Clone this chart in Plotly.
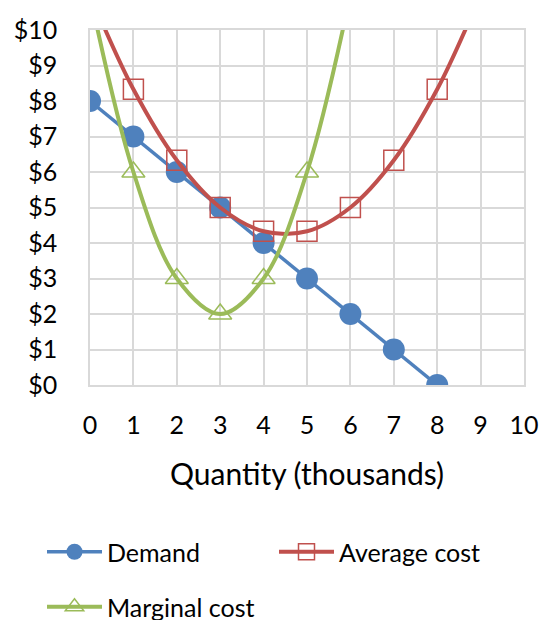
import plotly.graph_objects as go

quantity = [0, 1, 2, 3, 4, 5, 6, 7, 8, 9]
demand_q = [0, 1, 2, 3, 4, 5, 6, 7, 8]
demand = [8, 7, 6, 5, 4, 3, 2, 1, 0]
avg_cost = [11, 8.33, 6.33, 5, 4.33, 4.33, 5, 6.33, 8.33, 11]
mc_q = [0, 1, 2, 3, 4, 5, 6]
marg_cost = [11, 6, 3, 2, 3, 6, 11]

x_ticks = list(range(0, 11))
y_ticks = list(range(0, 11))

BLUE = "#4F81BD"
RED = "#C0504D"
GREEN = "#9BBB59"
GRID = "#D9D9D9"
FONT = "Lato"
FS = 25

W, H = 543, 620

fig = go.Figure()
fig.add_trace(go.Scatter(
    x=demand_q, y=demand, name="Demand", mode="lines+markers",
    line=dict(color=BLUE, width=3.5),
    marker=dict(symbol="circle", size=22, color=BLUE),
    legend="legend",
))
fig.add_trace(go.Scatter(
    x=quantity, y=avg_cost, name="Average cost", mode="lines+markers",
    line=dict(color=RED, width=4, shape="spline", smoothing=1),
    marker=dict(symbol="square-open", size=20, color=RED, line=dict(width=1.5)),
    legend="legend3",
))
fig.add_trace(go.Scatter(
    x=mc_q, y=marg_cost, name="Marginal cost", mode="lines+markers",
    line=dict(color=GREEN, width=4, shape="spline", smoothing=1),
    marker=dict(symbol="triangle-up-open", size=20, color=GREEN, line=dict(width=1.5)),
    legend="legend2",
))

leg_common = dict(
    orientation="h", xref="container", yref="container",
    xanchor="left", yanchor="top", itemwidth=55,
    font=dict(size=FS, family=FONT), bgcolor="rgba(0,0,0,0)",
)

fig.update_layout(
    width=W, height=H,
    margin=dict(l=90, r=19, t=30, b=235),
    paper_bgcolor="white", plot_bgcolor="white",
    font=dict(family=FONT, size=FS, color="black"),
    showlegend=True,
    legend=dict(x=42 / W, y=1 - 529 / H, **leg_common),
    legend3=dict(x=274 / W, y=1 - 529 / H, **leg_common),
    legend2=dict(x=42 / W, y=1 - 584 / H, **leg_common),
)
fig.update_xaxes(
    range=[0, 10], tickvals=x_ticks, ticktext=[str(v) for v in x_ticks],
    showgrid=True, gridcolor=GRID, gridwidth=1.5,
    showline=True, linecolor=GRID, linewidth=1.5, mirror=True,
    zeroline=False, ticks="", ticklabelstandoff=17, automargin=False,
    title=dict(text="Quantity (thousands)", standoff=26),
)
fig.update_yaxes(
    range=[0, 10], tickvals=y_ticks, ticktext=["$" + str(v) for v in y_ticks],
    showgrid=True, gridcolor=GRID, gridwidth=1.5,
    showline=True, linecolor=GRID, linewidth=1.5, mirror=True,
    zeroline=False, ticks="", ticklabelstandoff=26, automargin=False,
)

fig.write_html(
    "out.html",
    config={"displayModeBar": False},
    post_script="document.body.style.margin='0';document.body.style.overflow='hidden';",
)
